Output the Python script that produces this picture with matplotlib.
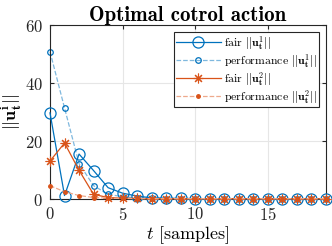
import matplotlib
matplotlib.use("Agg")
import matplotlib.pyplot as plt
import numpy as np

plt.rcParams['mathtext.fontset'] = 'cm'
plt.rcParams['font.family'] = 'serif'
plt.rcParams['font.serif'] = ['cmr10', 'DejaVu Serif']
plt.rcParams['axes.formatter.use_mathtext'] = True

t = list(range(20))
fair_u1 = [29.7, 1.2, 15.5, 9.8, 3.9, 2.0, 1.0, 0.4, 0.3, 0.2, 0.15, 0.1, 0.1, 0.1, 0.1, 0.1, 0.1, 0.1, 0.1, 0.1]
perf_u1 = [50.8, 31.4, 12.2, 4.6, 1.6, 0.8, 0.4, 0.2, 0.1, 0.1, 0.1, 0.1, 0.1, 0.1, 0.1, 0.1, 0.1, 0.1, 0.1, 0.1]
fair_u2 = [13.1, 19.3, 9.9, 1.6, 0.5, 0.3, 0.2, 0.1, 0.1, 0.1, 0.1, 0.1, 0.1, 0.1, 0.1, 0.1, 0.1, 0.1, 0.1, 0.1]
perf_u2 = [4.6, 2.5, 1.2, 0.5, 0.3, 0.2, 0.1, 0.1, 0.1, 0.1, 0.1, 0.1, 0.1, 0.1, 0.1, 0.1, 0.1, 0.1, 0.1, 0.1]

blue = '#0072BD'
orange = '#D95319'
lblue = '#7FB8DE'
lorange = '#EEA98C'

fig = plt.figure(figsize=(3.32, 2.46), dpi=100)
ax = fig.add_axes([50/332, 1-199/246, 276/332, 174/246])

ax.plot(t, fair_u1, '-o', color=blue, lw=0.9, ms=8, mfc='none', mew=0.9,
        label=r'fair $||\mathbf{u}_{\mathbf{t}}^{\mathbf{1}}||$', zorder=3, clip_on=False)
ax.plot(t, perf_u1, '--o', color=lblue, lw=0.9, ms=4, mfc='none', mew=0.9, mec=blue,
        label=r'performance $||\mathbf{u}_{\mathbf{t}}^{\mathbf{1}}||$', zorder=2, clip_on=False)
ax.plot(t, fair_u2, '-', color=orange, lw=0.9, marker=(8, 2, 0), ms=7, mew=0.8,
        label=r'fair $||\mathbf{u}_{\mathbf{t}}^{\mathbf{2}}||$', zorder=4, clip_on=False)
ax.plot(t, perf_u2, '--o', color=lorange, lw=0.9, ms=2.5, mfc=orange, mec=orange,
        label=r'performance $||\mathbf{u}_{\mathbf{t}}^{\mathbf{2}}||$', zorder=5, clip_on=False)

ax.set_xlim(0, 19)
ax.set_ylim(0, 60)
ax.set_xticks([0, 5, 10, 15])
ax.set_yticks([0, 20, 40, 60])
ax.grid(True, color='#E6E6E6', lw=0.8)
ax.set_axisbelow(True)
for s in ax.spines.values():
    s.set_color('#262626')
    s.set_linewidth(0.8)
ax.tick_params(direction='in', length=3, labelsize=12, colors='#262626', top=True, right=True, pad=5)

ax.set_xlabel(r'$t$ [samples]', fontsize=13, labelpad=1)
ax.set_ylabel(r'$||\mathbf{u}_{\mathbf{t}}^{\mathbf{i}}||$', fontsize=13, labelpad=0)
ax.set_title('Optimal cotrol action', fontsize=15, fontname='cmb10', pad=3)

leg = ax.legend(loc='upper right', fontsize=8.5, frameon=True, fancybox=False,
                edgecolor='#262626', framealpha=1, borderpad=0.15, labelspacing=0.0,
                handlelength=3.8, handletextpad=0.3, borderaxespad=0.6)
leg.get_frame().set_linewidth(0.8)
leg.set_zorder(10)

fig.savefig('out.png', dpi=100)
